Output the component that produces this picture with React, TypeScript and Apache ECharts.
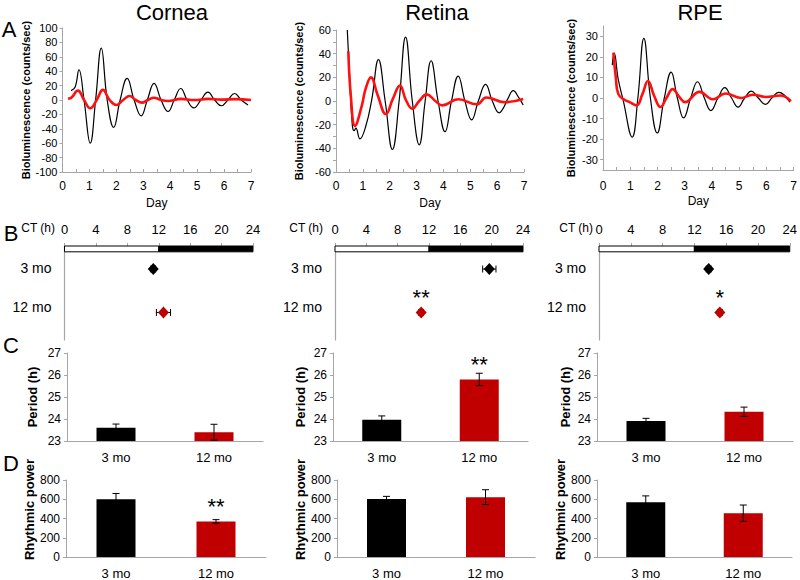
import React, { useEffect, useRef } from 'react';
import * as echarts from 'echarts';

// ---------- DATA ----------
// Panel A: detrended bioluminescence traces, [day, counts/sec]
const corneaBlack: number[][] = [[0.32,13],[0.47,18],[0.61,42],[0.8,0],[1.03,-60],[1.23,0],[1.44,72],[1.66,0],[1.9,-38],[2.14,0],[2.4,30],[2.66,0],[2.92,-22],[3.15,0],[3.4,23],[3.66,0],[3.92,-16],[4.15,0],[4.39,16],[4.63,0],[4.88,-11],[5.14,0],[5.4,11],[5.65,0],[5.9,-8],[6.14,0],[6.39,9],[6.64,0],[6.89,-7]];
const corneaRed: number[][] = [[0.2,2],[0.32,3],[0.57,13],[0.8,0],[1.03,-11.5],[1.27,0],[1.5,14],[1.75,0],[2.0,-7],[2.25,0],[2.49,5.5],[2.72,0],[2.95,-3.7],[3.17,0],[3.4,3.2],[3.66,0],[3.92,-1.4],[4.4,1.5],[4.9,0],[5.4,1.5],[5.9,0.5],[6.4,1.2],[7.0,0]];
const retinaBlack: number[][] = [[0.42,60],[0.5,24],[0.61,-21],[0.68,-25],[0.74,-23],[0.89,-32],[1.1,-22],[1.33,1],[1.58,35],[1.83,0],[2.1,-41],[2.35,0],[2.59,54],[2.84,0],[3.1,-37],[3.32,0],[3.54,34],[3.8,0],[4.06,-26],[4.3,0],[4.55,21],[4.8,0],[5.05,-16],[5.3,0],[5.57,14],[5.82,0],[6.08,-10],[6.23,-6],[6.4,2],[6.6,8.7],[6.8,3],[6.97,-3.4]];
const retinaRed: number[][] = [[0.46,42],[0.55,5],[0.71,-21],[0.95,-5],[1.1,10],[1.3,20],[1.55,5],[1.86,-11],[2.12,2],[2.38,13],[2.6,1],[2.84,-6.5],[3.1,0],[3.38,5.6],[3.7,0],[3.96,-3.7],[4.55,1.5],[5.24,-2.8],[5.6,3],[6.28,-1],[6.97,1.7]];
const rpeBlack: number[][] = [[0.34,16],[0.41,22],[0.56,9],[0.74,-1],[1.07,-19],[1.28,0],[1.5,29],[1.74,0],[1.99,-17],[2.25,0],[2.5,12.6],[2.73,0],[2.96,-9.7],[3.22,0],[3.47,7.9],[3.72,0],[3.96,-6.1],[4.22,0],[4.47,5],[4.72,0],[4.96,-4.4],[5.2,0],[5.45,3.3],[5.7,0],[5.97,-3.1],[6.2,0],[6.45,2.7],[6.86,-2]];
const rpeRed: number[][] = [[0.38,22],[0.47,10],[0.56,2],[0.8,-1],[0.98,-2],[1.23,-3.6],[1.45,2],[1.65,8.3],[1.88,1],[2.11,-4.4],[2.33,0],[2.56,4.3],[2.8,0.5],[3.01,-2],[3.54,3],[4.03,-0.6],[4.5,2.2],[5.06,0],[5.5,1.6],[5.98,0.5],[6.5,1.2],[6.9,-1.5]];

// Panel B: peak phase (CT h), mean and error, per age group
const ageGroups = ['3 mo', '12 mo'];
const lightPhase = [0, 12];
const darkPhase = [12, 24];
const phaseCornea = [11.3, 12.6];
const phaseCorneaErr = [0.3, 0.9];
const phaseRetina = [19.7, 11.0];
const phaseRetinaErr = [0.85, 0.3];
const phaseRpe = [13.8, 15.2];
const phaseRpeErr = [0.3, 0.3];
const phaseSigCornea = ['', ''];
const phaseSigRetina = ['', '**'];
const phaseSigRpe = ['', '*'];

// Panel C: period (h)
const periodCornea = [23.6, 23.4];
const periodCorneaErr = [0.17, 0.36];
const periodRetina = [23.97, 25.8];
const periodRetinaErr = [0.17, 0.28];
const periodRpe = [23.91, 24.33];
const periodRpeErr = [0.12, 0.21];
const periodSigCornea = ['', ''];
const periodSigRetina = ['', '**'];
const periodSigRpe = ['', ''];

// Panel D: rhythmic power
const powerCornea = [600, 370];
const powerCorneaErr = [60, 18];
const powerRetina = [603, 622];
const powerRetinaErr = [27, 77];
const powerRpe = [570, 455];
const powerRpeErr = [65, 85];
const powerSigCornea = ['', '**'];
const powerSigRetina = ['', ''];
const powerSigRpe = ['', ''];

const tissueNames = ['Cornea', 'Retina', 'RPE'];

// ---------- STYLE / LAYOUT ----------
const FONT = "'Liberation Sans', Arial, Helvetica, sans-serif";
const GRAY = '#a6a6a6';
const groupColors = ['#000000', '#c00000'];
const traceRed = '#ff1010';

const layoutA = [
  { left: 62.5, top: 28, width: 188.5, height: 144, yName: 27, xMargin: 8 },
  { left: 336, top: 30, width: 188, height: 142, yName: 32, xMargin: 8 },
  { left: 603, top: 26, width: 192, height: 144, yName: 27, xMargin: 10 },
];
const layoutB = [
  { left: 64.5, top: 246, width: 188.5, height: 94 },
  { left: 335, top: 246, width: 188, height: 94 },
  { left: 599, top: 246, width: 198, height: 94 },
];
const layoutC = [
  { left: 67, top: 353, width: 196, height: 88, yName: 28 },
  { left: 333, top: 353, width: 195, height: 88, yName: 26.5 },
  { left: 597, top: 353, width: 196, height: 88, yName: 25.5 },
];
const layoutD = [
  { left: 66, top: 480, width: 200, height: 79.5, yName: 27.5 },
  { left: 337, top: 480, width: 198, height: 79.5, yName: 30.5 },
  { left: 597, top: 480, width: 195, height: 79.5, yName: 27.5 },
];
// B rows (inverse value axis 0..100 within the B grid)
const B_ROW_POS = [24.5, 70.7];
const B_LABEL_POS = [23, 64.5];
const B_BAR_DEPTH = 6.2;

function errBarV(params: any, api: any) {
  const x = api.value(0);
  const lo = api.coord([x, api.value(1)]);
  const hi = api.coord([x, api.value(2)]);
  const w = 3.5;
  const st = { stroke: '#000', lineWidth: 1 };
  return {
    type: 'group',
    children: [
      { type: 'line', shape: { x1: lo[0], y1: lo[1], x2: hi[0], y2: hi[1] }, style: st },
      { type: 'line', shape: { x1: lo[0] - w, y1: lo[1], x2: lo[0] + w, y2: lo[1] }, style: st },
      { type: 'line', shape: { x1: hi[0] - w, y1: hi[1], x2: hi[0] + w, y2: hi[1] }, style: st },
    ],
  };
}
function errBarH(params: any, api: any) {
  const y = api.value(2);
  const lo = api.coord([api.value(0), y]);
  const hi = api.coord([api.value(1), y]);
  const h = 3.5;
  const st = { stroke: '#000', lineWidth: 1 };
  return {
    type: 'group',
    children: [
      { type: 'line', shape: { x1: lo[0], y1: lo[1], x2: hi[0], y2: hi[1] }, style: st },
      { type: 'line', shape: { x1: lo[0], y1: lo[1] - h, x2: lo[0], y2: lo[1] + h }, style: st },
      { type: 'line', shape: { x1: hi[0], y1: hi[1] - h, x2: hi[0], y2: hi[1] + h }, style: st },
    ],
  };
}
function lightDarkBar(params: any, api: any) {
  const p0 = api.coord([api.value(0), 0]);
  const p1 = api.coord([api.value(1), B_BAR_DEPTH]);
  const dark = api.value(2) === 1;
  return {
    type: 'rect',
    shape: { x: p0[0], y: p0[1], width: p1[0] - p0[0], height: p1[1] - p0[1] },
    style: { fill: dark ? '#000' : '#fff', stroke: '#000', lineWidth: 1 },
  };
}

function buildOption() {
  const grid: any[] = [];
  const xAxis: any[] = [];
  const yAxis: any[] = [];
  const series: any[] = [];

  const traces = [
    { black: corneaBlack, red: corneaRed, min: -100, max: 100, interval: 20, minor: false, custom: null as any },
    { black: retinaBlack, red: retinaRed, min: -60, max: 60, interval: 20, minor: true, custom: null as any },
    { black: rpeBlack, red: rpeRed, min: -35, max: 35, interval: 10, minor: false, custom: [-30, -20, -10, 0, 10, 20, 30] },
  ];
  const phases = [
    { v: phaseCornea, e: phaseCorneaErr, s: phaseSigCornea },
    { v: phaseRetina, e: phaseRetinaErr, s: phaseSigRetina },
    { v: phaseRpe, e: phaseRpeErr, s: phaseSigRpe },
  ];
  const periods = [
    { v: periodCornea, e: periodCorneaErr, s: periodSigCornea },
    { v: periodRetina, e: periodRetinaErr, s: periodSigRetina },
    { v: periodRpe, e: periodRpeErr, s: periodSigRpe },
  ];
  const powers = [
    { v: powerCornea, e: powerCorneaErr, s: powerSigCornea },
    { v: powerRetina, e: powerRetinaErr, s: powerSigRetina },
    { v: powerRpe, e: powerRpeErr, s: powerSigRpe },
  ];

  for (let t = 0; t < 3; t++) {
    // ---- A ----
    let gi = grid.length;
    const la = layoutA[t];
    grid.push({ left: la.left, top: la.top, width: la.width, height: la.height });
    xAxis.push({
      gridIndex: gi, type: 'value', min: 0, max: 7, interval: 1,
      axisLine: { show: true, onZero: false, lineStyle: { color: GRAY } },
      axisTick: { show: true, inside: true, length: 3, lineStyle: { color: GRAY } },
      minorTick: { show: true, splitNumber: 2, length: 3, lineStyle: { color: GRAY } },
      axisLabel: { fontSize: 12, color: '#000', margin: la.xMargin },
      splitLine: { show: false },
      name: 'Day', nameLocation: 'middle', nameGap: 25,
      nameTextStyle: { fontSize: 12, color: '#000' },
    });
    const tr = traces[t];
    const ya: any = {
      gridIndex: gi, type: 'value', min: tr.min, max: tr.max, interval: tr.interval,
      axisLine: { show: true, onZero: false, lineStyle: { color: GRAY } },
      axisTick: { show: true, length: 3, lineStyle: { color: GRAY } },
      minorTick: { show: tr.minor, splitNumber: 2, length: 3, lineStyle: { color: GRAY } },
      axisLabel: { fontSize: 11, color: '#000', margin: 5 },
      splitLine: { show: false },
      name: 'Bioluminescence (counts/sec)', nameLocation: 'middle', nameGap: la.yName,
      nameTextStyle: { fontSize: 11, fontWeight: 'bold', color: '#000' },
    };
    if (tr.custom) {
      ya.axisLabel.customValues = tr.custom;
      ya.axisTick.customValues = tr.custom;
    }
    yAxis.push(ya);
    series.push({
      type: 'line', xAxisIndex: gi, yAxisIndex: gi, data: tr.black, showSymbol: false,
      smooth: 0.45, lineStyle: { color: '#000', width: 1.2 }, z: 2,
    });
    series.push({
      type: 'line', xAxisIndex: gi, yAxisIndex: gi, data: tr.red, showSymbol: false,
      smooth: 0.45, lineStyle: { color: traceRed, width: 2.6 }, z: 3,
    });

    // ---- B ----
    gi = grid.length;
    const lb = layoutB[t];
    grid.push({ left: lb.left, top: lb.top, width: lb.width, height: lb.height });
    xAxis.push({
      gridIndex: gi, type: 'value', position: 'top', min: 0, max: 24, interval: 4,
      axisLine: { show: false },
      axisTick: { show: true, length: 3, lineStyle: { color: GRAY } },
      axisLabel: { fontSize: 13, color: '#000', margin: 10 },
      splitLine: { show: false },
    });
    yAxis.push({
      gridIndex: gi, type: 'value', inverse: true, min: 0, max: 100,
      axisLine: { show: true, lineStyle: { color: GRAY, width: 1.2 } },
      axisTick: { show: false },
      splitLine: { show: false },
      axisLabel: {
        fontSize: 14, color: '#000', margin: 13,
        customValues: B_LABEL_POS,
        formatter: (v: number) => ageGroups[B_LABEL_POS.indexOf(v)] ?? '',
      },
    });
    series.push({
      type: 'custom', xAxisIndex: gi, yAxisIndex: gi, renderItem: lightDarkBar,
      data: [[lightPhase[0], lightPhase[1], 0], [darkPhase[0], darkPhase[1], 1]], z: 1,
    });
    const ph = phases[t];
    series.push({
      type: 'custom', xAxisIndex: gi, yAxisIndex: gi, renderItem: errBarH,
      data: ph.v.map((v, i) => [v - ph.e[i], v + ph.e[i], B_ROW_POS[i]]), z: 2,
    });
    series.push({
      type: 'scatter', xAxisIndex: gi, yAxisIndex: gi, symbol: 'diamond', symbolSize: [11, 12], z: 3,
      data: ph.v.map((v, i) => ({
        value: [v, B_ROW_POS[i]],
        itemStyle: { color: groupColors[i], opacity: 1 },
        label: { show: !!ph.s[i], position: 'top', distance: -2, formatter: ph.s[i], fontSize: 22, color: '#000' },
      })),
    });

    // ---- C & D ----
    const cd = [
      { lay: layoutC[t], d: periods[t], min: 23, max: 27, interval: 1, name: 'Period (h)', pad: [0, 0, 0, 0] },
      { lay: layoutD[t], d: powers[t], min: 0, max: 800, interval: 200, name: 'Rhythmic power', pad: [0, 0, 0, 18] },
    ];
    for (const p of cd) {
      gi = grid.length;
      grid.push({ left: p.lay.left, top: p.lay.top, width: p.lay.width, height: p.lay.height });
      xAxis.push({
        gridIndex: gi, type: 'category', data: ageGroups,
        axisLine: { show: true, lineStyle: { color: GRAY, width: 1.2 } },
        axisTick: { show: false },
        axisLabel: { fontSize: 13, color: '#000', margin: 10 },
      });
      yAxis.push({
        gridIndex: gi, type: 'value', min: p.min, max: p.max, interval: p.interval,
        axisLine: { show: true, lineStyle: { color: GRAY } },
        axisTick: { show: true, length: 3, lineStyle: { color: GRAY } },
        axisLabel: { fontSize: 12, color: '#000', margin: 6 },
        splitLine: { show: false },
        name: p.name, nameLocation: 'middle', nameGap: p.lay.yName,
        nameTextStyle: { fontSize: 13, fontWeight: 'bold', color: '#000', padding: p.pad },
      });
      series.push({
        type: 'bar', xAxisIndex: gi, yAxisIndex: gi, barWidth: 39, z: 2,
        data: p.d.v.map((v, i) => ({
          value: v,
          itemStyle: { color: groupColors[i] },
          label: { show: !!p.d.s[i], position: 'top', distance: 4, formatter: p.d.s[i], fontSize: 22, color: '#000' },
        })),
      });
      series.push({
        type: 'custom', xAxisIndex: gi, yAxisIndex: gi, renderItem: errBarV, z: 3,
        encode: { x: 0, y: [1, 2] },
        data: p.d.v.map((v, i) => [i, v - p.d.e[i], v + p.d.e[i]]),
      });
    }
  }

  const txt = (text: string, x: number, y: number, size: number, align = 'center') => ({
    type: 'text', x, y, silent: true,
    style: { text, fontSize: size, fontFamily: FONT, fill: '#000', textAlign: align, textVerticalAlign: 'middle' },
  });
  const titleX = [172, 437, 700];
  const ctRight = [55, 323, 593];
  const graphic: any[] = [
    ...tissueNames.map((n, i) => txt(n, titleX[i], 12, 22)),
    txt('A', 9, 29, 22), txt('B', 11, 233, 22), txt('C', 11, 345, 22), txt('D', 11, 463, 22),
    ...ctRight.map((x) => txt('CT (h)', x, 228, 12, 'right')),
  ];

  return {
    animation: false,
    backgroundColor: '#fff',
    textStyle: { fontFamily: FONT },
    grid, xAxis, yAxis, series, graphic,
  };
}

export default function App() {
  const ref = useRef<HTMLDivElement>(null);
  useEffect(() => {
    if (!ref.current) return;
    const chart = echarts.init(ref.current, null, { renderer: 'svg' });
    chart.setOption(buildOption() as any);
    return () => chart.dispose();
  }, []);
  return <div ref={ref} style={{ position: 'fixed', left: 0, top: 0, width: 800, height: 580, background: '#fff' }} />;
}
